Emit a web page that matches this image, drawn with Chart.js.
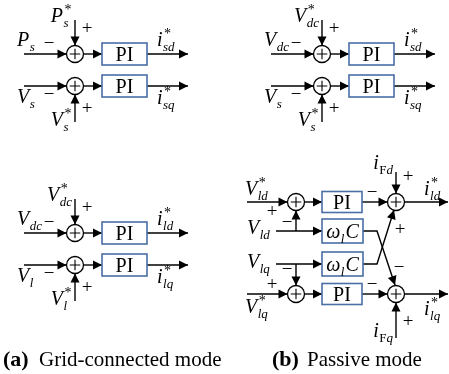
<!DOCTYPE html>
<html>
<head>
<meta charset="utf-8">
<script src="https://cdn.jsdelivr.net/npm/chart.js@4.4.0/dist/chart.umd.min.js"></script>
<style>
  body { margin: 0; background: #fff; }
  #wrap { width: 449px; height: 374px; }
</style>
</head>
<body>
<div id="wrap"><canvas id="diagram"></canvas></div>
<script>
// Labels of the control loops ("_" = subscript, "^*" = reference star, "|" = trailing symbol)
const gridRefsA = ["P_s^*", "V_s^*"];
const gridFeedbackA = ["P_s", "V_s"];
const gridOutputsA = ["i_sd^*", "i_sq^*"];

const gridRefsB = ["V_dc^*", "V_s^*"];
const gridFeedbackB = ["V_dc", "V_s"];
const gridOutputsB = ["i_sd^*", "i_sq^*"];

const gridRefsC = ["V_dc^*", "V_l^*"];
const gridFeedbackC = ["V_dc", "V_l"];
const gridOutputsC = ["i_ld^*", "i_lq^*"];

const passiveRefs = ["V_ld^*", "V_lq^*"];
const passiveMeasured = ["V_ld", "V_lq"];
const passiveFeedForward = ["i_Fd", "i_Fq"];
const passiveOutputs = ["i_ld^*", "i_lq^*"];

const blockNames = ["PI", "ω_l|C"];
const captionTags = ["(a)", "(b)"];
const captionTexts = ["Grid-connected mode", "Passive mode"];

// ---- layout (diagram units = pixels of the 449x374 canvas) ----
const wires = [];   // polylines, drawn as line datasets
const boxes = [];
const circles = [];
const texts = [];
const R = 8.5;

function wire(pts, arrow = true) {
  wires.push({ pts: pts.map(p => ({ x: p[0], y: p[1] })), arrow });
}

function loopPanel(cx, rows, refs, fbs, outs) {
  rows.forEach((y, i) => {
    const top = i === 0;
    wire([[cx - 51, y], [cx - R, y]]);
    wire([[cx + R, y], [cx + 27, y]]);
    wire([[cx + 72, y], [cx + 113, y]]);
    boxes.push({ x: cx + 27, y: y - 11, w: 45, h: 22, label: blockNames[0] });
    circles.push({ x: cx, y });
    if (top) wire([[cx, y - 34], [cx, y - R]]);
    else wire([[cx, y + 36], [cx, y + R]]);
    texts.push({ s: fbs[i], x: cx - 58, y: top ? y - 8 : y + 17 });
    texts.push({ sign: "−", x: cx - 26, y: top ? y - 10 : y + 9 });
    texts.push({ s: refs[i], x: cx - 3, y: top ? y - 32 : y + 40, align: "right" });
    texts.push({ sign: "+", x: cx + 12, y: top ? y - 25 : y + 23 });
    texts.push({ s: outs[i], x: cx + 82, y: top ? y - 8 : y + 18 });
  });
}

loopPanel(75, [54, 86], gridRefsA, gridFeedbackA, gridOutputsA);
loopPanel(322, [54, 86], gridRefsB, gridFeedbackB, gridOutputsB);
loopPanel(75, [233, 265], gridRefsC, gridFeedbackC, gridOutputsC);

// passive mode panel
(function passivePanel() {
  const c1 = 296, c2 = 396, bx = 322;
  const rowsPI = [202, 294];
  const rowsW = [231, 264];
  rowsPI.forEach((y, i) => {
    const top = i === 0;
    wire([[247, y], [c1 - R, y]]);
    wire([[c1 + R, y], [bx, y]]);
    wire([[bx + 40, y], [c2 - R, y]]);
    wire([[c2 + R, y], [448, y]]);
    boxes.push({ x: bx, y: y - 10.5, w: 40, h: 21, label: blockNames[0] });
    circles.push({ x: c1, y });
    circles.push({ x: c2, y });
    if (top) wire([[c2, 172], [c2, y - R]]);
    else wire([[c2, 338], [c2, y + R]]);
    texts.push({ s: passiveRefs[i], x: 245, y: top ? 195 : 313 });
    texts.push({ sign: "+", x: 272, y: top ? 212 : 285 });
    texts.push({ sign: "−", x: 372, y: y - 9 });
    texts.push({ sign: "+", x: 408, y: top ? 177 : 322 });
    texts.push({ s: passiveFeedForward[i], x: c2 - 3, y: top ? 169 : 337, align: "right" });
    texts.push({ s: passiveOutputs[i], x: 424, y: top ? 195 : 315 });
  });
  rowsW.forEach((y, i) => {
    const top = i === 0;
    wire([[276, y], [bx, y]]);
    wire([[c1, y], [c1, top ? rowsPI[0] + R : rowsPI[1] - R]]);
    boxes.push({ x: bx, y: y - 12, w: 41, h: 24, label: blockNames[1] });
    texts.push({ s: passiveMeasured[i], x: 247, y: top ? 234 : 268 });
    texts.push({ sign: "−", x: 287, y: top ? 223 : 270 });
  });
  wire([[bx + 41, rowsW[0]], [377, rowsW[0]], [395, 285]]);
  wire([[bx + 41, rowsW[1]], [377, rowsW[1]], [394, 210]]);
  texts.push({ sign: "+", x: 400, y: 230 });
  texts.push({ sign: "−", x: 399, y: 268 });
})();

const captions = [
  { x: 3, y: 366, gap: 36 },
  { x: 272, y: 366, gap: 35 }
];

// ---- drawing helpers ----
const SERIF = '"Liberation Serif", "DejaVu Serif", serif';

function subParts(sub) {
  return sub.split("").map(ch => ({ ch, italic: !/[A-Z]/.test(ch) }));
}

function mathWidth(ctx, spec, size) {
  return drawMath(ctx, spec, 0, 0, size, "left", true);
}

function drawMath(ctx, spec, x, y, size, align, measureOnly) {
  const m = spec.match(/^([^_^|]+)(?:_([^^|]+))?(\^\*)?(?:\|(.+))?$/);
  const main = m[1], sub = m[2] || "", star = !!m[3], tail = m[4] || "";
  const sSize = Math.round(size * 0.66);
  ctx.font = `italic ${size}px ${SERIF}`;
  const wMain = ctx.measureText(main).width;
  let wSub = 0;
  const parts = subParts(sub);
  parts.forEach(p => {
    ctx.font = `${p.italic ? "italic " : ""}${sSize}px ${SERIF}`;
    p.w = ctx.measureText(p.ch).width;
    wSub += p.w;
  });
  ctx.font = `${Math.round(size * 0.72)}px ${SERIF}`;
  const wStar = star ? ctx.measureText("*").width + 1.5 : 0;
  ctx.font = `italic ${size}px ${SERIF}`;
  const wTail = tail ? ctx.measureText(tail).width + 1 : 0;
  const total = wMain + 0.5 + Math.max(wSub, wStar) + wTail;
  if (measureOnly) return total;
  if (align === "right") x -= total;

  ctx.fillStyle = "#000";
  ctx.textAlign = "left";
  ctx.textBaseline = "alphabetic";
  ctx.font = `italic ${size}px ${SERIF}`;
  ctx.fillText(main, x, y);
  let sx = x + wMain + 0.5;
  parts.forEach(p => {
    ctx.font = `${p.italic ? "italic " : ""}${sSize}px ${SERIF}`;
    ctx.fillText(p.ch, sx, y + size * 0.25);
    sx += p.w;
  });
  if (star) {
    ctx.font = `${Math.round(size * 0.72)}px ${SERIF}`;
    ctx.fillText("*", x + wMain + 1.5, y - size * 0.42);
  }
  if (tail) {
    ctx.font = `italic ${size}px ${SERIF}`;
    ctx.fillText(tail, x + wMain + 0.5 + Math.max(wSub, wStar) + 1, y);
  }
  return total;
}

const diagramPlugin = {
  id: "diagram",
  beforeDraw(chart) {
    const ctx = chart.ctx;
    ctx.save();
    ctx.fillStyle = "#fff";
    ctx.fillRect(0, 0, chart.width, chart.height);
    ctx.restore();
  },
  afterDatasetsDraw(chart) {
    const ctx = chart.ctx;
    const sx = chart.scales.x, sy = chart.scales.y;
    const X = v => sx.getPixelForValue(v);
    const Y = v => sy.getPixelForValue(v);
    ctx.save();

    // arrowheads
    ctx.fillStyle = "#000";
    wires.forEach(w => {
      if (!w.arrow) return;
      const a = w.pts[w.pts.length - 2], b = w.pts[w.pts.length - 1];
      const x1 = X(a.x), y1 = Y(a.y), x2 = X(b.x), y2 = Y(b.y);
      const len = Math.hypot(x2 - x1, y2 - y1);
      const dx = (x2 - x1) / len, dy = (y2 - y1) / len;
      const L = 9, W = 4.5;
      ctx.beginPath();
      ctx.moveTo(x2, y2);
      ctx.lineTo(x2 - dx * L - dy * W, y2 - dy * L + dx * W);
      ctx.lineTo(x2 - dx * L + dy * W, y2 - dy * L - dx * W);
      ctx.closePath();
      ctx.fill();
    });

    // summing junctions
    circles.forEach(c => {
      const x = X(c.x), y = Y(c.y);
      ctx.beginPath();
      ctx.arc(x, y, R, 0, Math.PI * 2);
      ctx.fillStyle = "#fff";
      ctx.fill();
      ctx.strokeStyle = "#000";
      ctx.lineWidth = 1.3;
      ctx.stroke();
      ctx.beginPath();
      ctx.moveTo(x - R * 0.62, y); ctx.lineTo(x + R * 0.62, y);
      ctx.moveTo(x, y - R * 0.62); ctx.lineTo(x, y + R * 0.62);
      ctx.lineWidth = 1.1;
      ctx.stroke();
    });

    // blocks
    boxes.forEach(b => {
      const x = X(b.x), y = Y(b.y), w = X(b.x + b.w) - x, h = Y(b.y + b.h) - y;
      ctx.fillStyle = "#fff";
      ctx.fillRect(x, y, w, h);
      ctx.strokeStyle = "#4a6fa5";
      ctx.lineWidth = 1.6;
      ctx.strokeRect(x, y, w, h);
      const base = y + h / 2 + 7;
      if (b.label === "PI") {
        ctx.fillStyle = "#000";
        ctx.font = `20px ${SERIF}`;
        ctx.textAlign = "center";
        ctx.textBaseline = "alphabetic";
        ctx.fillText(b.label, x + w / 2, base);
      } else {
        const tw = mathWidth(ctx, b.label, 20);
        drawMath(ctx, b.label, x + (w - tw) / 2, base, 20, "left");
      }
    });

    // labels and signs
    texts.forEach(t => {
      if (t.sign) {
        ctx.fillStyle = "#000";
        ctx.font = `19px ${SERIF}`;
        ctx.textAlign = "center";
        ctx.textBaseline = "middle";
        ctx.fillText(t.sign, X(t.x), Y(t.y));
      } else {
        drawMath(ctx, t.s, X(t.x), Y(t.y), 20, t.align || "left");
      }
    });

    // captions
    captions.forEach((c, i) => {
      ctx.fillStyle = "#000";
      ctx.textAlign = "left";
      ctx.textBaseline = "alphabetic";
      ctx.font = `bold 22px ${SERIF}`;
      ctx.fillText(captionTags[i], X(c.x), Y(c.y));
      ctx.font = `21px ${SERIF}`;
      ctx.fillText(captionTexts[i], X(c.x + c.gap), Y(c.y));
    });
    ctx.restore();
  }
};

new Chart(document.getElementById("diagram"), {
  type: "scatter",
  data: {
    datasets: wires.map(w => ({
      data: w.pts,
      showLine: true,
      borderColor: "#000",
      borderWidth: 1.4,
      pointRadius: 0,
      fill: false,
      tension: 0
    }))
  },
  options: {
    responsive: true,
    maintainAspectRatio: false,
    animation: false,
    events: [],
    layout: { padding: 0 },
    plugins: {
      legend: { display: false },
      tooltip: { enabled: false }
    },
    scales: {
      x: { type: "linear", min: 0, max: 449, display: false },
      y: { type: "linear", min: 0, max: 374, reverse: true, display: false }
    }
  },
  plugins: [diagramPlugin]
});
</script>
</body>
</html>
